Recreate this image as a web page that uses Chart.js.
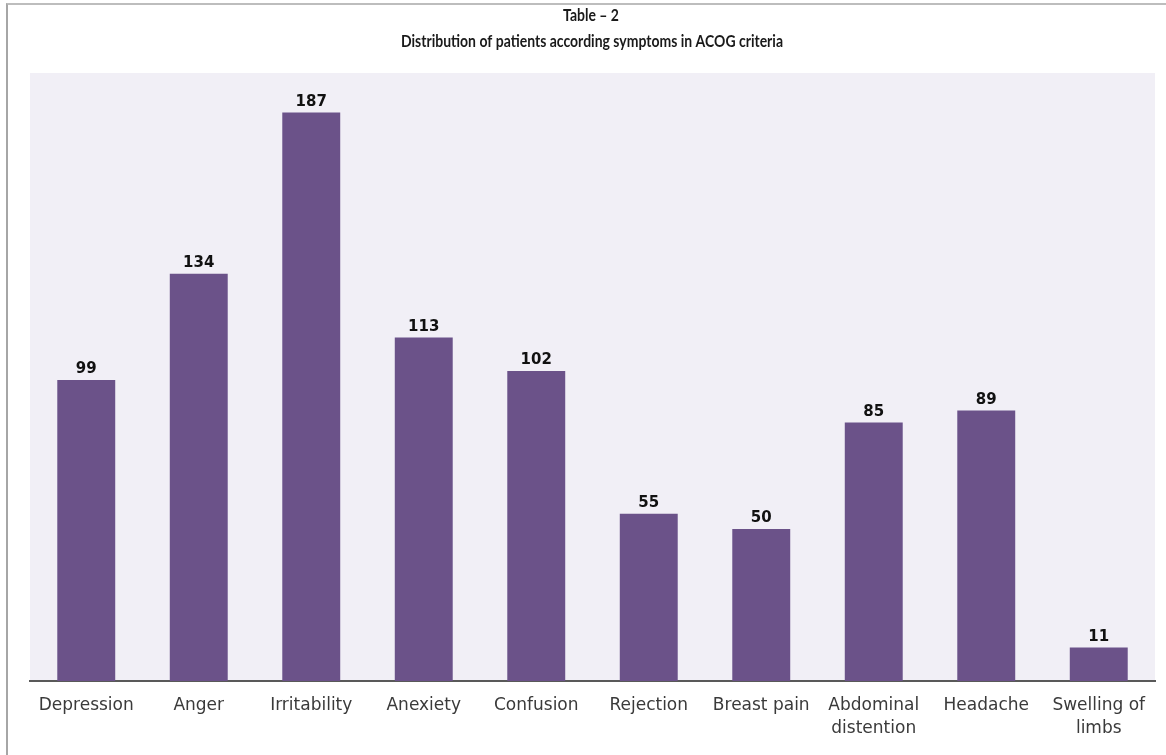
<!DOCTYPE html>
<html>
<head>
<meta charset="utf-8">
<script src="https://cdn.jsdelivr.net/npm/chart.js@4.4.1/dist/chart.umd.min.js"></script>
<style>
  html, body { margin: 0; padding: 0; background: #ffffff; }
  #wrap { position: relative; width: 1166px; height: 755px; overflow: hidden; }
  #frame { position: absolute; left: 6px; top: 3px; right: -4px; bottom: -4px;
           border-left: 2px solid #a6a6a6; border-top: 2px solid #bdbdbd; pointer-events: none; }
  canvas { position: absolute; left: 0; top: 0; }
</style>
</head>
<body>
<div id="wrap">
  <canvas id="chart" width="1166" height="755"></canvas>
  <div id="frame"></div>
</div>
<script>
// Symptom categories (multi-line where the label wraps)
const categories = [
  'Depression', 'Anger', 'Irritability', 'Anexiety', 'Confusion',
  'Rejection', 'Breast pain', ['Abdominal', 'distention'], 'Headache', ['Swelling of', 'limbs']
];
// Number of patients reporting each symptom
const patients = [99, 134, 187, 113, 102, 55, 50, 85, 89, 11];
// Heading lines above the plot
const titleLines = ['Table \u2013 2', 'Distribution of patients according symptoms in ACOG criteria'];

const BAR_COLOR = '#6b5289';
const PLOT_BG = '#f1eff6';

// Fill the plot area with a pale lavender panel
const plotBackground = {
  id: 'plotBackground',
  beforeDraw(chart) {
    const { ctx, chartArea: a } = chart;
    ctx.save();
    ctx.fillStyle = PLOT_BG;
    ctx.fillRect(a.left, a.top, a.right - a.left, a.bottom - a.top);
    ctx.restore();
  }
};

// Two-line heading centred over the chart, with slightly tall glyphs
const heading = {
  id: 'heading',
  afterDraw(chart) {
    const { ctx } = chart;
    const rows = [[591, 16], [592, 42]];
    ctx.save();
    ctx.fillStyle = '#1a1a1a';
    ctx.textAlign = 'center';
    ctx.textBaseline = 'middle';
    ctx.font = 'bold 14px Lato';
    titleLines.forEach((line, i) => {
      ctx.save();
      ctx.translate(rows[i][0], rows[i][1]);
      ctx.scale(1, 1.15);
      ctx.fillText(line, 0, 0);
      ctx.restore();
    });
    ctx.restore();
  }
};

// Value printed above each bar
const valueLabels = {
  id: 'valueLabels',
  afterDatasetsDraw(chart) {
    const { ctx } = chart;
    const meta = chart.getDatasetMeta(0);
    ctx.save();
    ctx.fillStyle = '#111111';
    ctx.textAlign = 'center';
    ctx.textBaseline = 'bottom';
    ctx.font = 'bold 15px "DejaVu Sans"';
    meta.data.forEach((bar, i) => {
      ctx.fillText(String(patients[i]), bar.x, bar.y - 3);
    });
    ctx.restore();
  }
};

new Chart(document.getElementById('chart'), {
  type: 'bar',
  data: {
    labels: categories,
    datasets: [{
      data: patients,
      backgroundColor: BAR_COLOR,
      borderWidth: 0,
      categoryPercentage: 1.0,
      barPercentage: 0.515
    }]
  },
  options: {
    responsive: false,
    animation: false,
    devicePixelRatio: 1,
    layout: { padding: { left: 30, right: 11, top: 73, bottom: 0 } },
    plugins: {
      legend: { display: false },
      title: { display: false },
      tooltip: { enabled: false }
    },
    scales: {
      x: {
        grid: { display: false, drawTicks: false },
        border: { display: true, color: '#595959', width: 2 },
        ticks: {
          color: '#3a3a3a',
          font: { family: '"DejaVu Sans"', size: 17, lineHeight: 1.3 },
          padding: 14,
          maxRotation: 0,
          autoSkip: false
        },
        afterFit(scale) { scale.height = 74; }
      },
      y: {
        display: false,
        min: 0,
        max: 200
      }
    }
  },
  plugins: [plotBackground, valueLabels, heading]
});
</script>
</body>
</html>
